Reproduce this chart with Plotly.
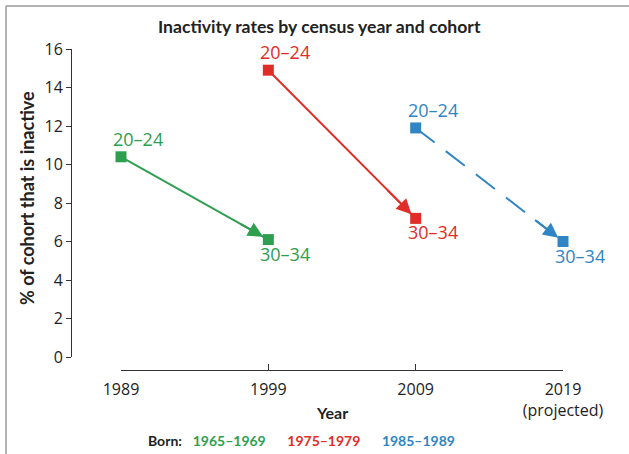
import plotly.graph_objects as go

years = [1989, 1999, 2009, 2019]
tick_labels = ["1989", "1999", "2009", "2019<br>(projected)"]
y_ticks = [0, 2, 4, 6, 8, 10, 12, 14, 16]

cohorts = ["1965–1969", "1975–1979", "1985–1989"]
cohort_x = [[1989, 1999], [1999, 2009], [2009, 2019]]
cohort_y = [[10.4, 6.1], [14.9, 7.2], [11.9, 6.0]]
age_labels = ["20–24", "30–34"]
colors = ["#2e9e4f", "#e12d28", "#3085c4"]
dashes = ["solid", "solid", "24px,14px"]

W, H = 629, 454
ML, MR, MT, MB = 71, 66, 49, 84
PW = W - ML - MR
PH = H - MT - MB

def px_x(p):
    return (p - ML) / PW

def px_y(p):
    return (H - MB - p) / PH

LBL = "Open Sans"
TTL = "Lato"

fig = go.Figure()

for i in range(3):
    fig.add_trace(go.Scatter(
        x=cohort_x[i], y=cohort_y[i], mode="lines+markers",
        line=dict(color=colors[i], width=2, dash=dashes[i]),
        marker=dict(symbol="square", size=11, color=colors[i]),
        cliponaxis=False, showlegend=False, hoverinfo="skip"))
    x0, x1 = cohort_x[i]
    y0, y1 = cohort_y[i]
    fig.add_annotation(
        x=x1, y=y1, ax=x0 + 0.8 * (x1 - x0), ay=y0 + 0.8 * (y1 - y0),
        xref="x", yref="y", axref="x", ayref="y", text="",
        showarrow=True, arrowhead=2, arrowsize=1.5, arrowwidth=2,
        arrowcolor=colors[i], standoff=6)
    fig.add_annotation(
        x=x0, y=y0, xref="x", yref="y", text=age_labels[0], showarrow=False,
        xanchor="left", yanchor="bottom", xshift=-10, yshift=4,
        font=dict(family=LBL, size=18, color=colors[i]))
    fig.add_annotation(
        x=x1, y=y1, xref="x", yref="y", text=age_labels[1], showarrow=False,
        xanchor="left", yanchor="top", xshift=-10, yshift=0,
        font=dict(family=LBL, size=18, color=colors[i]))

def label(xp, yp, text, size, angle=0):
    fig.add_annotation(
        x=px_x(xp), y=px_y(yp), xref="paper", yref="paper",
        xanchor="center", yanchor="middle", textangle=angle,
        text=text, showarrow=False,
        font=dict(family=TTL, size=size, color="#222222"))

label(319, 27, "<b>Inactivity rates by census year and cohort</b>", 17.6)
label(27, 198, "<b>% of cohort that is inactive</b>", 18, -90)
label(332, 413, "<b>Year</b>", 16)
born_text = "<b>Born:</b>&nbsp;&nbsp;&nbsp;" + "&nbsp;&nbsp;&nbsp;&nbsp;&nbsp;&nbsp;".join(
    f"<span style='color:{c}'><b>{n}</b></span>" for c, n in zip(colors, cohorts))
label(301, 440, born_text, 14)

fig.add_shape(type="line", xref="paper", yref="paper",
              x0=px_x(6), x1=px_x(6), y0=px_y(6), y1=px_y(H + 5),
              line=dict(color="#9a9a9a", width=1.5))
fig.add_shape(type="line", xref="paper", yref="paper",
              x0=px_x(6), x1=px_x(W + 5), y0=px_y(6), y1=px_y(6),
              line=dict(color="#9a9a9a", width=1.5))

fig.update_layout(
    width=W, height=H, margin=dict(l=ML, r=MR, t=MT, b=MB),
    paper_bgcolor="white", plot_bgcolor="white",
    xaxis=dict(domain=[px_x(121), 1], range=[1989, 2019], anchor="free", position=0,
               tickvals=years, ticktext=tick_labels, ticks="inside", ticklen=6,
               tickcolor="#333", showline=True, linecolor="#333", linewidth=1,
               showgrid=False, zeroline=False, ticklabelstandoff=5,
               tickfont=dict(family=LBL, size=16, color="#222")),
    yaxis=dict(domain=[px_y(357), 1], range=[0, 16], anchor="free", position=0,
               tickvals=y_ticks, ticks="outside", ticklen=5,
               tickcolor="#333", showline=True, linecolor="#333", linewidth=1,
               showgrid=False, zeroline=False,
               tickfont=dict(family=LBL, size=16, color="#222")),
)

fig.write_html("out.html", config={"displayModeBar": False},
               post_script="document.body.style.margin='0';")
